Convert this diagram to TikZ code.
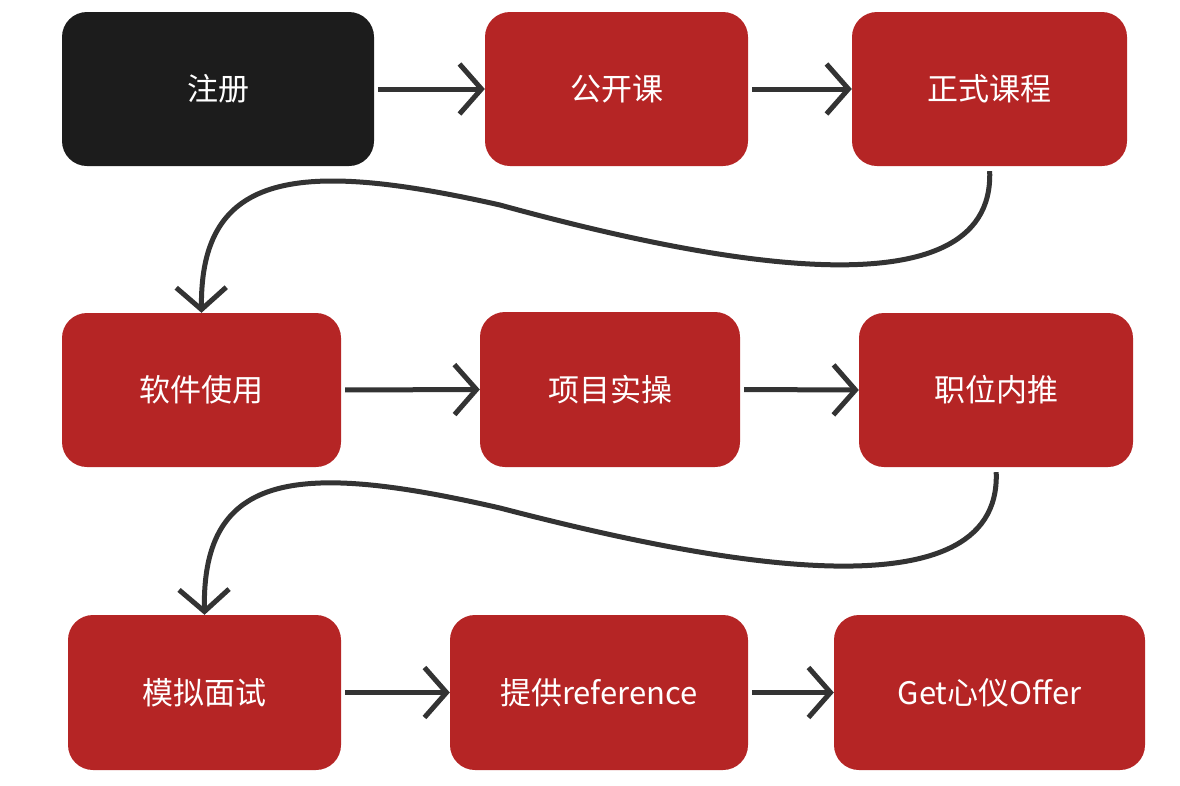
\documentclass[tikz,border=0pt]{standalone}
\usepackage{fontspec}
\setmainfont{Noto Sans CJK SC}
\usetikzlibrary{arrows.meta}
\definecolor{bred}{HTML}{B52525}
\definecolor{bblk}{HTML}{1C1C1C}
\definecolor{lgray}{HTML}{333333}
\begin{document}
\begin{tikzpicture}[x=1pt,y=-1pt,
 box/.style={fill=bred,rounded corners=25pt,text=white,font=\fontsize{31}{36}\selectfont},
 arr/.style={draw=lgray,line width=5pt,-{Straight Barb[length=22pt,width=50pt,line width=5pt]}}]
\useasboundingbox (0,0) rectangle (1180,785);
\newcommand\bx[6]{\path[box,#6] (#2,#3) rectangle (#4,#5); \node[text=white,font=\fontsize{31}{36}\selectfont] (#1) at ({(#2+#4)/2},{(#3+#5)/2}) [minimum width={#4-#2},minimum height={#5-#3}] {};}
\path[box,fill=bblk] (62,12) rectangle (374,166);
\node[inner sep=0,minimum width=312pt,minimum height=154pt,text=white,font=\fontsize{31}{36}\selectfont] (a) at (218,89) {注册};
\path[box] (485,12) rectangle (748,166);
\node[inner sep=0,minimum width=263pt,minimum height=154pt,text=white,font=\fontsize{31}{36}\selectfont] (b) at (616.5,89) {公开课};
\path[box] (852,12) rectangle (1127,166);
\node[inner sep=0,minimum width=275pt,minimum height=154pt,text=white,font=\fontsize{31}{36}\selectfont] (c) at (989.5,89) {正式课程};
\path[box] (62,313) rectangle (341,467);
\node[inner sep=0,minimum width=279pt,minimum height=154pt,text=white,font=\fontsize{31}{36}\selectfont] (d) at (201.5,390) {软件使用};
\path[box] (480,312) rectangle (740,467);
\node[inner sep=0,minimum width=260pt,minimum height=155pt,text=white,font=\fontsize{31}{36}\selectfont] (e) at (610,389.5) {项目实操};
\path[box] (859,313) rectangle (1133,467);
\node[inner sep=0,minimum width=274pt,minimum height=154pt,text=white,font=\fontsize{31}{36}\selectfont] (f) at (996,390) {职位内推};
\path[box] (68,615) rectangle (341,770);
\node[inner sep=0,minimum width=273pt,minimum height=155pt,text=white,font=\fontsize{31}{36}\selectfont] (g) at (204.5,692.5) {模拟面试};
\path[box] (450,615) rectangle (748,770);
\node[inner sep=0,minimum width=298pt,minimum height=155pt,text=white,font=\fontsize{31}{36}\selectfont] (h) at (599,692.5) {提供reference};
\path[box] (834,615) rectangle (1145,770);
\node[inner sep=0,minimum width=311pt,minimum height=155pt,text=white,font=\fontsize{31}{36}\selectfont] (i) at (989.5,692.5) {Get心仪Offer};
\draw[arr,shorten <=4pt] (a.east) -- (b.west);
\draw[arr,shorten <=4pt] (b.east) -- (c.west);
\draw[arr,shorten <=4pt] (d.east) -- (e.west);
\draw[arr,shorten <=4pt] (e.east) -- (f.west);
\draw[arr,shorten <=4pt] (g.east) -- (h.west);
\draw[arr,shorten <=4pt] (h.east) -- (i.west);
\draw[arr,shorten <=5pt] (c.south) .. controls (995,320) and (700,260) .. (500,205) .. controls (300,160) and (200,170) .. (d.north);
\draw[arr,shorten <=5pt] (f.south) .. controls (1002,622) and (700,560) .. (500,508) .. controls (300,462) and (202,470) .. (g.north);
\end{tikzpicture}
\end{document}
